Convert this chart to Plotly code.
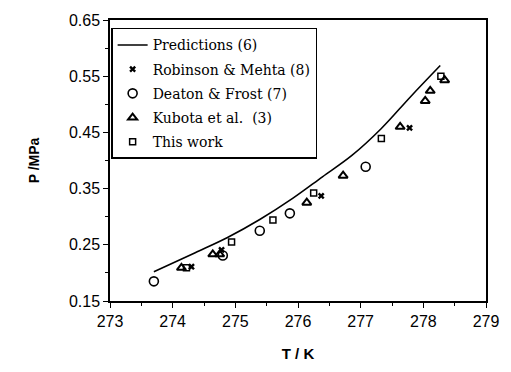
import plotly.graph_objects as go

# Predictions (6) curve
pred_T = [273.70, 274.36, 274.875, 275.39, 275.92, 276.39, 276.86, 277.33, 277.80, 278.27]
pred_P = [0.202, 0.236, 0.263, 0.295, 0.333, 0.371, 0.409, 0.457, 0.514, 0.569]

# Robinson & Mehta (8)
rm_T = [274.30, 274.78, 276.37, 277.78]
rm_P = [0.211, 0.241, 0.337, 0.458]

# Deaton & Frost (7)
df_T = [273.70, 274.80, 275.39, 275.87, 277.08]
df_P = [0.185, 0.231, 0.275, 0.306, 0.389]

# Kubota et al. (3)
ku_T = [274.14, 274.64, 274.75, 276.14, 276.72, 277.63, 278.03, 278.11, 278.34]
ku_P = [0.209, 0.233, 0.233, 0.325, 0.373, 0.460, 0.506, 0.524, 0.543]

# This work
tw_T = [274.22, 274.94, 275.60, 276.25, 277.33, 278.28]
tw_P = [0.209, 0.255, 0.294, 0.342, 0.439, 0.550]

x_ticks = [273, 274, 275, 276, 277, 278, 279]
y_ticks = [0.15, 0.25, 0.35, 0.45, 0.55, 0.65]

fig = go.Figure()
fig.add_trace(go.Scatter(x=pred_T, y=pred_P, mode="lines", name="Predictions (6)",
                         line=dict(color="black", width=1.6, shape="spline", smoothing=1.0),
                         legendgroup="a"))
fig.add_trace(go.Scatter(x=rm_T, y=rm_P, mode="markers", name="Robinson & Mehta (8)",
                         marker=dict(symbol="x", size=6, color="black",
                                     line=dict(width=0)), legendgroup="b"))
fig.add_trace(go.Scatter(x=df_T, y=df_P, mode="markers", name="Deaton & Frost (7)",
                         marker=dict(symbol="circle-open", size=9, color="black",
                                     line=dict(width=1.6)), legendgroup="c"))
fig.add_trace(go.Scatter(x=ku_T, y=ku_P, mode="markers", name="Kubota et al.  (3)",
                         marker=dict(symbol="triangle-up-open", size=8, color="black",
                                     line=dict(width=2)), legendgroup="d"))
fig.add_trace(go.Scatter(x=tw_T, y=tw_P, mode="markers", name="This work",
                         marker=dict(symbol="square-open", size=6, color="black",
                                     line=dict(width=1.5)), legendgroup="e"))

fig.update_layout(
    width=511, height=372,
    margin=dict(l=110, r=17, t=17, b=66),
    plot_bgcolor="white", paper_bgcolor="white",
    font=dict(family="Liberation Sans, Arial, sans-serif", color="black", size=16),
    legend=dict(x=0.003, y=0.972, xanchor="left", yanchor="top",
                bgcolor="white", bordercolor="black", borderwidth=1.5,
                font=dict(family="DejaVu Serif, Liberation Serif, serif", size=14, color="black"),
                tracegroupgap=3, traceorder="grouped"),
    showlegend=True,
)
fig.update_xaxes(range=[273, 279], tickvals=x_ticks, ticktext=[str(v) for v in x_ticks],
                 ticks="outside", ticklen=5, tickwidth=1.2, tickcolor="black",
                 minor=dict(dtick=0.5, ticks="outside", ticklen=3, tickcolor="black"),
                 showline=True, linecolor="black", linewidth=1.5, mirror=True,
                 showgrid=False, zeroline=False,
                 title=dict(text="<b>T / K</b>", font=dict(size=15), standoff=20))
fig.update_yaxes(range=[0.15, 0.65], tickvals=y_ticks, ticktext=[f"{v:.2f}" for v in y_ticks],
                 ticks="outside", ticklen=5, tickwidth=1.2, tickcolor="black",
                 minor=dict(dtick=0.05, ticks="outside", ticklen=3, tickcolor="black"),
                 showline=True, linecolor="black", linewidth=1.5, mirror=True,
                 showgrid=False, zeroline=False,
                 title=dict(text="<b>P /MPa</b>", font=dict(size=14), standoff=26))

fig.write_html("out.html")
